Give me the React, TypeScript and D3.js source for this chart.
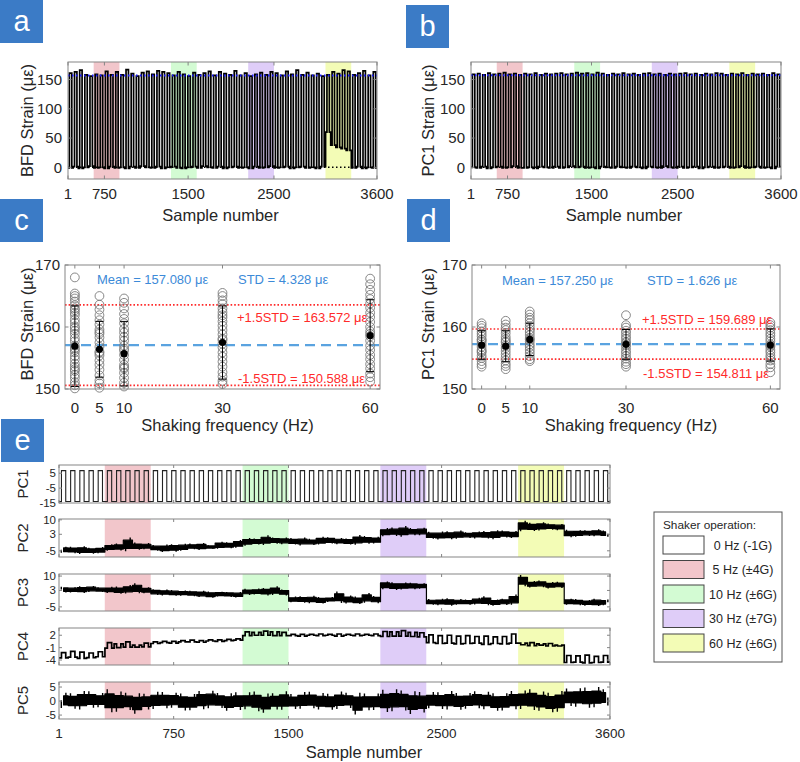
import React from "react";
import * as d3 from "d3";

const FONT = "Arial, 'Liberation Sans', Helvetica, sans-serif";
const INK = "#262626";
const AXIS = "#858585";
const TAG = "#3b7bc6";

// acquisition timing: 60 loading cycles of 60 samples
const nSamples = 3600;
const period = 60;
const riseAt = 16;
const fallAt = 44;

// shaker operating windows (sample numbers)
const shakeFrom = [300, 1200, 2100, 3000];
const shakeTo = [600, 1500, 2400, 3300];
const shakeFill = ["#f2c6cb", "#d3fbd3", "#dfcdf8", "#f3fcb6"];
const legendLabels = ["0 Hz (-1G)", "5 Hz (±4G)", "10 Hz (±6G)", "30 Hz (±7G)", "60 Hz (±6G)"];
const legendFill = ["#ffffff", ...shakeFill];

const sampleTicks = [1, 750, 1500, 2500, 3600];
const sampleTickLabels = ["1", "750", "1500", "2500", "3600"];
// tick positions used on the strain panels
const strainTickAt = [1, 425, 1400, 2400, 3600];
const strainYTicks = [0, 50, 100, 150];

// per-cycle loaded strain peaks and unloaded baselines
const bfdPeak = [
  161, 163, 166, 158, 156, 159, 157, 164, 158, 163,
  158, 167, 160, 156, 162, 164, 159, 165, 163, 161,
  157, 163, 159, 156, 162, 158, 161, 164, 157, 163,
  160, 158, 165, 157, 161, 156, 159, 162, 158, 163,
  161, 157, 164, 159, 166, 158, 162, 157, 160, 156,
  158, 163, 160, 166, 164, 158, 161, 165, 157, 163,
];
const bfdBase = [
  -1, 1, -2, 0, 2, -1, 0, -2, 1, -1,
  0, -2, 1, -1, 2, 0, -1, 1, -2, 0,
  1, -1, -2, 0, 1, -1, 2, 0, -1, 1,
  -2, 0, 1, -1, 0, -2, 1, -1, 0, 2,
  -1, 0, 1, -2, 0, 1, -1, 0, -2, 1,
  60, 38, 34, 32, 29, -1, 1, -2, 0, -1,
];
const pcStrainPeak = [
  159, 160, 158, 161, 159, 160, 162, 159, 160, 158,
  160, 159, 161, 158, 160, 159, 160, 161, 159, 160,
  162, 160, 161, 159, 162, 160, 158, 160, 159, 161,
  159, 160, 158, 160, 161, 159, 160, 158, 160, 159,
  160, 161, 159, 160, 158, 160, 159, 161, 160, 158,
  160, 159, 161, 158, 160, 159, 160, 158, 161, 159,
];
const pcStrainBase = [
  0, -1, 1, -2, 0, 1, -1, 0, 2, -1,
  -1, 0, -2, 1, 0, -1, 1, -1, 0, 2,
  0, 1, -1, 0, -2, 1, 0, -1, 1, 0,
  -1, 1, 0, -2, 1, 0, -1, 2, 0, -1,
  1, -1, 0, 1, -2, 0, 1, -1, 0, 1,
  -1, 0, 2, -1, 0, 1, -1, 0, -2, 1,
];

// strain statistics by shaking frequency
const freqs = [0, 5, 10, 30, 60];
const bfd0Hz = [168.0, 165.4, 165.0, 164.6, 164.1, 163.5, 163.0, 162.7, 162.3, 161.9, 161.2, 160.7, 160.1, 159.8, 159.4, 158.9, 158.2, 157.7, 157.0, 156.6, 156.3, 155.9, 155.3, 154.8, 154.1, 153.6, 153.2, 152.9, 152.3, 151.8, 151.1, 150.6, 150.1];
const bfd5Hz = [165.0, 163.6, 162.8, 161.9, 161.1, 160.4, 159.6, 159.2, 158.9, 158.3, 157.5, 156.8, 156.0, 155.8, 155.4, 154.6, 153.9, 153.1, 152.2, 151.4, 150.9, 150.2];
const bfd10Hz = [164.6, 163.9, 163.0, 162.1, 161.3, 160.6, 159.7, 159.1, 158.4, 157.8, 157.0, 156.5, 156.2, 155.5, 154.7, 153.9, 153.5, 153.3, 152.6, 151.8, 151.0, 150.4];
const bfd30Hz = [165.5, 165.0, 164.3, 163.7, 163.0, 162.4, 161.9, 161.5, 160.9, 160.2, 159.5, 158.8, 158.1, 157.9, 157.3, 156.7, 155.9, 155.2, 154.4, 153.6, 152.7, 152.0, 151.3, 150.8];
const bfd60Hz = [167.8, 166.9, 166.0, 165.2, 164.5, 163.8, 163.1, 162.3, 161.6, 160.8, 160.0, 159.3, 158.9, 158.5, 157.8, 157.0, 156.3, 155.5, 154.8, 154.0, 153.3, 152.5, 151.9, 151.2];
const bfdGroupMean = [156.9, 156.4, 155.7, 157.5, 158.6];
const bfdGroupSd = [6.5, 4.5, 5.2, 5.9, 5.8];
const bfdMean = 157.08;
const bfdStd = 4.328;

const pc0Hz = [160.6, 160.2, 159.8, 159.3, 158.9, 158.5, 158.0, 157.9, 157.6, 157.2, 156.8, 156.3, 156.1, 155.9, 155.4, 155.0, 154.5, 154.0, 153.6];
const pc5Hz = [161.0, 160.4, 159.9, 159.5, 159.0, 158.4, 158.0, 157.7, 157.5, 157.0, 156.6, 156.1, 155.6, 155.1, 154.6, 154.1, 153.7, 153.2];
const pc10Hz = [162.5, 162.0, 161.5, 161.1, 160.6, 160.1, 159.6, 159.2, 158.7, 158.2, 158.0, 157.7, 157.2, 156.8, 156.3, 155.8, 155.3, 154.8, 154.5];
const pc30Hz = [161.9, 160.3, 159.9, 159.4, 159.0, 158.5, 158.1, 157.6, 157.4, 157.1, 156.7, 156.2, 155.8, 155.3, 154.9, 154.4, 154.0, 153.6];
const pc60Hz = [160.7, 160.3, 159.9, 159.5, 159.0, 158.6, 158.1, 157.7, 157.2, 157.0, 156.8, 156.3, 155.9, 155.4, 155.0, 154.6, 154.0, 153.5, 152.7];
const pcGroupMean = [157.1, 156.9, 158.0, 157.2, 157.1];
const pcGroupSd = [2.3, 2.5, 2.6, 2.4, 2.6];
const pcMean = 157.25;
const pcStd = 1.626;

// principal component scores per cycle: unloaded / loaded part of each cycle
const pc1Score = [-14, 6.7];
const pc2Off = [
  -6.0, -3.0, -6.5, -3.5, -6.2,
  -5.0, -1.5, -5.2, -1.0, -4.3,
  -2.2, -5.6, -1.8, -5.0, -1.5, -4.6, -2.3, -4.0, -0.8, -3.5,
  -2.5, 1.0, -2.2, 1.5, -1.8,
  1.2, -2.4, 0.8, -2.0, 1.6, -1.8, 1.0, -2.1, 2.2, -1.5,
  2.0, 6.3, 1.8, 6.0, 2.5,
  4.2, 0.5, 4.5, 0.8, 4.0, 1.0, 4.6, 0.6, 4.8, 1.2,
  4.5, 8.6, 4.8, 8.2, 5.0,
  5.2, 1.8, 5.0, 2.0, 4.8,
];
const pc2On = [
  -3.0, -6.2, -2.8, -6.4, -3.2,
  -1.8, -4.8, 1.5, -4.5, -1.2,
  -5.0, -2.0, -5.4, -1.6, -4.3, -1.2, -4.0, -0.6, -3.8, 0.2,
  1.2, -2.0, 2.5, -1.6, 1.4,
  -2.0, 1.4, -2.2, 1.8, -1.5, 1.2, -2.0, 2.6, -1.6, 1.8,
  6.0, 2.2, 7.0, 2.5, 6.2,
  0.8, 4.3, 0.6, 4.8, 1.2, 4.4, 0.9, 5.0, 1.4, 4.6,
  9.5, 4.6, 8.8, 5.2, 8.0,
  1.6, 5.0, 2.2, 5.4, 1.8,
];
const pc3Off = [
  4.8, 2.0, 5.0, 2.2, 4.6,
  1.8, 4.9, 1.5, 6.5, 1.6,
  3.6, 0.6, 3.2, 0.4, 2.9, -0.2, 2.5, 0.0, 2.3, -0.4,
  3.8, 1.0, 4.2, 0.8, 3.5,
  -2.8, 0.2, -3.2, -0.2, -2.6, 2.5, -3.4, 0.0, -3.0, 0.3,
  3.6, 7.0, 3.4, 6.8, 3.8,
  -1.2, -4.2, -0.8, -4.0, -1.4, -3.8, 0.2, -4.4, -1.0, -4.0,
  10.5, 4.4, 7.8, 4.0, 7.2,
  -4.0, -1.2, -4.4, -1.0, -4.2,
];
const pc3On = [
  2.0, 4.6, 1.8, 5.2, 2.2,
  4.8, 1.4, 5.6, 1.6, 4.6,
  0.8, 3.4, 0.4, 3.0, 0.2, 2.8, -0.6, 2.4, -0.2, 2.2,
  0.8, 3.9, 0.6, 5.0, 0.6,
  0.0, -3.0, 0.4, -3.4, -0.2, -3.1, 0.6, -3.6, 1.8, -3.2,
  7.4, 3.2, 6.9, 3.6, 6.5,
  -4.0, -1.0, -4.4, -1.2, -3.9, -0.6, -4.2, -1.4, -4.1, 1.0,
  5.0, 7.6, 4.6, 7.1, 4.2,
  -1.0, -4.2, -1.6, -4.6, -1.4,
];
const pc4Off = [
  -3.5, -3.3, -3.6, -3.4, -3.2,
  -1.1, -0.1, -0.9, -0.4, -0.8,
  0.0, 0.2, 0.1, 0.4, 0.4, 0.3, 0.6, 0.5, 0.7, 0.8,
  1.9, 2.7, 2.0, 2.8, 1.9,
  1.9, 1.8, 2.0, 1.9, 2.0, 1.8, 2.0, 1.9, 2.0, 1.9,
  1.7, 2.8, 1.8, 2.7, 1.6,
  0.2, 0.0, 0.1, -0.1, 0.0, 0.1, -0.2, 0.0, -0.1, 0.1,
  0.1, -0.5, -0.1, -0.6, -0.4,
  -4.6, -4.5, -4.7, -4.6, -4.5,
];
const pc4On = [
  -2.2, -1.9, -2.1, -2.3, -2.0,
  0.2, -1.0, 0.4, -0.9, 0.1,
  0.4, 0.5, 0.5, 0.7, 0.8, 0.7, 0.9, 0.9, 1.0, 1.1,
  2.8, 2.0, 3.0, 1.9, 2.7,
  2.2, 2.2, 2.2, 2.3, 2.2, 2.3, 2.2, 2.3, 2.2, 2.3,
  2.9, 1.8, 3.1, 1.7, 2.6,
  2.1, 1.9, 2.0, 1.8, 1.9, 1.7, 1.8, 1.6, 1.7, 2.3,
  -0.3, 0.2, -0.4, 0.0, -0.6,
  -2.9, -3.0, -2.8, -3.1, -2.9,
];
const pc5Off = [
  -2.5, 2.8, -3.0, 3.5, -2.2, 4.2, -3.8, 3.0, -4.5, 2.6,
  -2.8, 3.2, -2.4, 2.7, -3.3, 3.6, -2.6, 2.9, -3.5, 3.1,
  -2.9, 3.4, -4.2, 2.8, -3.1, 2.5, -2.7, 3.3, -3.0, 2.6,
  -2.8, 3.0, -4.8, 2.7, -3.2, 4.0, -3.6, 3.8, -4.6, 3.2,
  -2.6, 3.1, -3.0, 2.9, -2.7, 3.5, -2.9, 2.8, -3.4, 3.6,
  -2.8, 4.2, -3.5, 3.0, -3.8, 4.5, -2.0, 4.8, -2.2, 4.2,
];
const pc5On = [
  3.0, -2.7, 3.6, -2.4, 2.9, -4.0, 3.4, -3.2, 2.8, -3.0,
  3.3, -2.6, 3.0, -3.4, 2.5, -2.9, 3.7, -2.5, 2.8, -3.2,
  3.1, -3.6, 2.7, -3.0, 3.5, -2.8, 3.2, -2.6, 2.9, -3.1,
  3.4, -2.5, 3.0, -3.3, 2.7, -3.9, 4.2, -3.4, 3.5, -4.1,
  3.2, -2.8, 3.6, -3.1, 2.9, -2.6, 3.3, -3.5, 2.8, -2.9,
  3.8, -3.2, 3.4, -4.0, 3.6, -1.8, 4.6, -2.4, 5.0, -1.6,
];

type Pt = [number, number];

// square-wave trace: unloaded level, loaded level, unloaded again within each cycle
function cyclePoints(off: (i: number) => number, on: (i: number) => number, n: number): Pt[] {
  const pts: Pt[] = [];
  for (let i = 0; i < n; i++) {
    const t0 = i * period + 1;
    pts.push([t0, off(i)], [t0 + riseAt, on(i)], [t0 + fallAt, off(i)]);
  }
  pts.push([nSamples, off(n - 1)]);
  return pts;
}

function Tag({ x, y, letter }: { x: number; y: number; letter: string }) {
  return (
    <g>
      <rect x={x} y={y} width={43} height={43} fill={TAG} />
      <text x={x + 21.5} y={y + 31} textAnchor="middle" fill="#fff" fontSize={29}>
        {letter}
      </text>
    </g>
  );
}

function Frame({ left, right, top, bottom, xs, ys, len = 3.5 }: any) {
  return (
    <g stroke={AXIS} strokeWidth={1} fill="none">
      {xs.map((px: number, i: number) => (
        <g key={"x" + i}>
          <line x1={px} x2={px} y1={bottom} y2={bottom - len} />
          <line x1={px} x2={px} y1={top} y2={top + len} />
        </g>
      ))}
      {ys.map((py: number, i: number) => (
        <g key={"y" + i}>
          <line x1={left} x2={left + len} y1={py} y2={py} />
          <line x1={right} x2={right - len} y1={py} y2={py} />
        </g>
      ))}
      <rect x={left} y={top} width={right - left} height={bottom - top} />
    </g>
  );
}

function YTitle({ x, y, text, size = 16.5 }: any) {
  return (
    <text
      transform={`translate(${x},${y}) rotate(-90)`}
      textAnchor="middle"
      dominantBaseline="central"
      fontSize={size}
      fill={INK}
    >
      {text}
    </text>
  );
}

function ShakeBands({ x, top, bottom }: any) {
  return (
    <g>
      {shakeFrom.map((s, i) => (
        <rect key={i} x={x(s)} y={top} width={x(shakeTo[i]) - x(s)} height={bottom - top} fill={shakeFill[i]} />
      ))}
    </g>
  );
}

function StrainPanel({ left, right, top, bottom, peak, base, mean, title, titleX }: any) {
  const x = d3.scaleLinear().domain([1, nSamples]).range([left, right]);
  const y = d3.scaleLinear().domain([-20, 180]).range([bottom, top]);
  const pts = cyclePoints((i) => base[i], (i) => peak[i], peak.length);
  const line = d3
    .line<Pt>()
    .x((d) => x(d[0]))
    .y((d) => y(d[1]))
    .curve(d3.curveStepAfter);
  const id = "clip-" + title.replace(/\W/g, "");
  return (
    <g>
      <clipPath id={id}>
        <rect x={left} y={top} width={right - left} height={bottom - top} />
      </clipPath>
      <ShakeBands x={x} top={top} bottom={bottom} />
      <g clipPath={`url(#${id})`}>
        <path d={line(pts) || ""} fill="none" stroke="#000" strokeWidth={1.7} />
        <line x1={left} x2={right} y1={y(0)} y2={y(0)} stroke="#000" strokeWidth={1.5} strokeDasharray="1.5,2.5" />
        <line x1={left} x2={right} y1={y(mean)} y2={y(mean)} stroke="#1a1aff" strokeWidth={2} strokeDasharray="1.5,2.5" />
      </g>
      <Frame left={left} right={right} top={top} bottom={bottom} xs={strainTickAt.map((t) => x(t))} ys={strainYTicks.map((t) => y(t))} />
      {strainYTicks.map((t) => (
        <text key={t} x={left - 6} y={y(t)} dy="0.35em" textAnchor="end" fontSize={15} fill={INK}>
          {t}
        </text>
      ))}
      {strainTickAt.map((t, i) => (
        <text key={t} x={x(t)} y={bottom + 20} textAnchor="middle" fontSize={15} fill={INK}>
          {sampleTickLabels[i]}
        </text>
      ))}
      <text x={(left + right) / 2 - 2} y={bottom + 42} textAnchor="middle" fontSize={16.5} fill={INK}>
        Sample number
      </text>
      <YTitle x={titleX} y={(top + bottom) / 2} text={title} />
    </g>
  );
}

function ScatterPanel({ left, right, top, bottom, groups, gMean, gSd, mean, sd, title, titleX, notes }: any) {
  const x = d3.scaleLinear().domain([-2, 62]).range([left, right]);
  const y = d3.scaleLinear().domain([150, 170]).range([bottom, top]);
  const yTicks = [150, 160, 170];
  const hi = mean + 1.5 * sd;
  const lo = mean - 1.5 * sd;
  return (
    <g>
      <line x1={left} x2={right} y1={y(hi)} y2={y(hi)} stroke="#ff2a2a" strokeWidth={1.6} strokeDasharray="1.6,2" />
      <line x1={left} x2={right} y1={y(lo)} y2={y(lo)} stroke="#ff2a2a" strokeWidth={1.6} strokeDasharray="1.6,2" />
      <line x1={left} x2={right} y1={y(mean)} y2={y(mean)} stroke="#5aa3e0" strokeWidth={2.2} strokeDasharray="10,6" />
      {groups.map((vals: number[], gi: number) =>
        vals.map((v, k) => (
          <circle key={gi + "-" + k} cx={x(freqs[gi])} cy={y(v)} r={4.4} fill="none" stroke="#7a7a7a" strokeWidth={0.9} />
        ))
      )}
      {gMean.map((m: number, gi: number) => {
        const cx = x(freqs[gi]);
        return (
          <g key={gi} stroke="#000" strokeWidth={1}>
            <line x1={cx} x2={cx} y1={y(m - gSd[gi])} y2={y(m + gSd[gi])} />
            <line x1={cx - 4} x2={cx + 4} y1={y(m - gSd[gi])} y2={y(m - gSd[gi])} />
            <line x1={cx - 4} x2={cx + 4} y1={y(m + gSd[gi])} y2={y(m + gSd[gi])} />
            <circle cx={cx} cy={y(m)} r={3.6} fill="#000" stroke="none" />
          </g>
        );
      })}
      <Frame left={left} right={right} top={top} bottom={bottom} xs={freqs.map((f) => x(f))} ys={yTicks.map((t) => y(t))} />
      {yTicks.map((t) => (
        <text key={t} x={left - 5} y={y(t)} dy="0.35em" textAnchor="end" fontSize={15} fill={INK}>
          {t}
        </text>
      ))}
      {freqs.map((f) => (
        <text key={f} x={x(f)} y={bottom + 24} textAnchor="middle" fontSize={15} fill={INK}>
          {f}
        </text>
      ))}
      <text x={(left + right) / 2 + 5} y={bottom + 42} textAnchor="middle" fontSize={16.5} fill={INK}>
        Shaking frequency (Hz)
      </text>
      <YTitle x={titleX} y={(top + bottom) / 2 - 3} text={title} />
      <g fontSize={13}>
        <text x={notes.meanX} y={notes.topY} fill="#3c8ad8">{`Mean = ${mean.toFixed(3)} με`}</text>
        <text x={notes.stdX} y={notes.topY} fill="#3c8ad8">{`STD = ${sd.toFixed(3)} με`}</text>
        <text x={notes.limX} y={notes.hiY} fill="#ff2a2a">{`+1.5STD = ${hi.toFixed(3)} με`}</text>
        <text x={notes.limX + 1} y={notes.loY} fill="#ff2a2a">{`-1.5STD = ${lo.toFixed(3)} με`}</text>
      </g>
    </g>
  );
}

// PCA score rows of panel e
const E_LEFT = 59;
const E_RIGHT = 610;
const pcRows = [
  { name: "PC1", domain: [-15, 10.5], ticks: [-15, -5, 5], top: 465, bottom: 503 },
  { name: "PC2", domain: [-8, 10.4], ticks: [-5, 3, 10], top: 519, bottom: 557 },
  { name: "PC3", domain: [-7, 11], ticks: [-5, 3, 10], top: 574, bottom: 611 },
  { name: "PC4", domain: [-5.2, 3.75], ticks: [-4, -1, 2], top: 628, bottom: 665 },
  { name: "PC5", domain: [-6.4, 6.8], ticks: [-5, 0, 5], top: 682, bottom: 719 },
];
const pcSeries = [
  { off: () => pc1Score[0], on: () => pc1Score[1], noisy: false, width: 1.1 },
  { off: (i: number) => pc2Off[i], on: (i: number) => pc2On[i], noisy: true, width: 1.4 },
  { off: (i: number) => pc3Off[i], on: (i: number) => pc3On[i], noisy: true, width: 1.4 },
  { off: (i: number) => pc4Off[i], on: (i: number) => pc4On[i], noisy: false, width: 1.7 },
  { off: (i: number) => pc5Off[i], on: (i: number) => pc5On[i], noisy: true, width: 1.4 },
];
const nCycles = pc2Off.length;

function ScoreRow({ row, series, idx }: any) {
  const x = d3.scaleLinear().domain([1, nSamples]).range([E_LEFT, E_RIGHT]);
  const y = d3.scaleLinear().domain(row.domain).range([row.bottom, row.top]);
  let trace = "";
  let band: string | null = null;
  if (series.noisy) {
    // solid core around each cycle's midpoint, with each reading drawn as a spike out of it
    const mid = (i: number) => (series.off(i) + series.on(i)) / 2;
    const half = (i: number) => (Math.abs(series.on(i) - series.off(i)) / 2) * 0.6;
    const area = d3
      .area<number>()
      .x((i) => x(i * period + 1 + period / 2))
      .y0((i) => y(mid(i) - half(i)))
      .y1((i) => y(mid(i) + half(i)))
      .curve(d3.curveStep);
    band = area(d3.range(nCycles));
    const p = d3.path();
    for (let i = 0; i < nCycles; i++) {
      const t0 = i * period + 1;
      const xa = x(t0 + period * 0.25);
      const xb = x(t0 + period * 0.75);
      p.moveTo(xa, y(mid(i)));
      p.lineTo(xa, y(series.off(i)));
      p.moveTo(xb, y(mid(i)));
      p.lineTo(xb, y(series.on(i)));
    }
    trace = p.toString();
  } else {
    const line = d3
      .line<Pt>()
      .x((d) => x(d[0]))
      .y((d) => y(d[1]))
      .curve(d3.curveStepAfter);
    trace = line(cyclePoints(series.off, series.on, nCycles)) || "";
  }
  const id = "clip-pc" + idx;
  return (
    <g>
      <clipPath id={id}>
        <rect x={E_LEFT} y={row.top} width={E_RIGHT - E_LEFT} height={row.bottom - row.top} />
      </clipPath>
      <ShakeBands x={x} top={row.top} bottom={row.bottom} />
      <g clipPath={`url(#${id})`}>
        {band && <path d={band} fill="#000" stroke="#000" strokeWidth={1.2} strokeLinejoin="round" />}
        <path d={trace} fill="none" stroke={idx === 0 ? "#222" : "#000"} strokeWidth={series.width} />
      </g>
      <Frame left={E_LEFT} right={E_RIGHT} top={row.top} bottom={row.bottom} xs={sampleTicks.map((t) => x(t))} ys={row.ticks.map((t: number) => y(t))} len={3} />
      {row.ticks.map((t: number) => (
        <text key={t} x={E_LEFT - 3} y={y(t)} dy="0.35em" textAnchor="end" fontSize={11.5} fill={INK}>
          {t}
        </text>
      ))}
      <YTitle x={22} y={(row.top + row.bottom) / 2} text={row.name} size={15} />
    </g>
  );
}

function Legend({ x, y }: { x: number; y: number }) {
  return (
    <g>
      <rect x={x} y={y} width={128} height={150} fill="#fff" stroke="#555" strokeWidth={1} />
      <text x={x + 9} y={y + 17} fontSize={11.8} fill={INK}>
        Shaker operation:
      </text>
      {legendLabels.map((lab, i) => (
        <g key={lab}>
          <rect x={x + 9} y={y + 24 + i * 24.5} width={41} height={18} fill={legendFill[i]} stroke="#444" strokeWidth={1} />
          <text x={x + 89} y={y + 37.5 + i * 24.5} textAnchor="middle" fontSize={12.5} fill={INK}>
            {lab}
          </text>
        </g>
      ))}
    </g>
  );
}

export default function App() {
  const xE = d3.scaleLinear().domain([1, nSamples]).range([E_LEFT, E_RIGHT]);
  return (
    <svg
      width={800}
      height={762}
      viewBox="0 0 800 762"
      style={{ position: "absolute", left: 0, top: 0, background: "#fff" }}
      fontFamily={FONT}
    >
      <rect width={800} height={762} fill="#fff" />
      <Tag x={0} y={0} letter="a" />
      <Tag x={406} y={5} letter="b" />
      <Tag x={0} y={199} letter="c" />
      <Tag x={407} y={199} letter="d" />
      <Tag x={1} y={419} letter="e" />

      <StrainPanel left={68} right={377} top={62} bottom={179} peak={bfdPeak} base={bfdBase} mean={bfdMean} title="BFD Strain (με)" titleX={27} />
      <StrainPanel left={471} right={781} top={62} bottom={179} peak={pcStrainPeak} base={pcStrainBase} mean={pcMean} title="PC1 Strain (με)" titleX={428} />

      <ScatterPanel
        left={65}
        right={380}
        top={265}
        bottom={389}
        groups={[bfd0Hz, bfd5Hz, bfd10Hz, bfd30Hz, bfd60Hz]}
        gMean={bfdGroupMean}
        gSd={bfdGroupSd}
        mean={bfdMean}
        sd={bfdStd}
        title="BFD Strain (με)"
        titleX={27}
        notes={{ meanX: 97, stdX: 238, limX: 237, topY: 284, hiY: 322, loY: 383 }}
      />
      <ScatterPanel
        left={472}
        right={780}
        top={265}
        bottom={389}
        groups={[pc0Hz, pc5Hz, pc10Hz, pc30Hz, pc60Hz]}
        gMean={pcGroupMean}
        gSd={pcGroupSd}
        mean={pcMean}
        sd={pcStd}
        title="PC1 Strain (με)"
        titleX={428}
        notes={{ meanX: 502, stdX: 647, limX: 642, topY: 285, hiY: 324, loY: 378 }}
      />

      {pcRows.map((row, i) => (
        <ScoreRow key={row.name} row={row} series={pcSeries[i]} idx={i} />
      ))}
      {sampleTicks.map((t, i) => (
        <text key={t} x={xE(t)} y={738} textAnchor="middle" fontSize={13.5} fill={INK}>
          {sampleTickLabels[i]}
        </text>
      ))}
      <text x={364} y={758} textAnchor="middle" fontSize={16.5} fill={INK}>
        Sample number
      </text>
      <Legend x={654} y={512} />
    </svg>
  );
}
